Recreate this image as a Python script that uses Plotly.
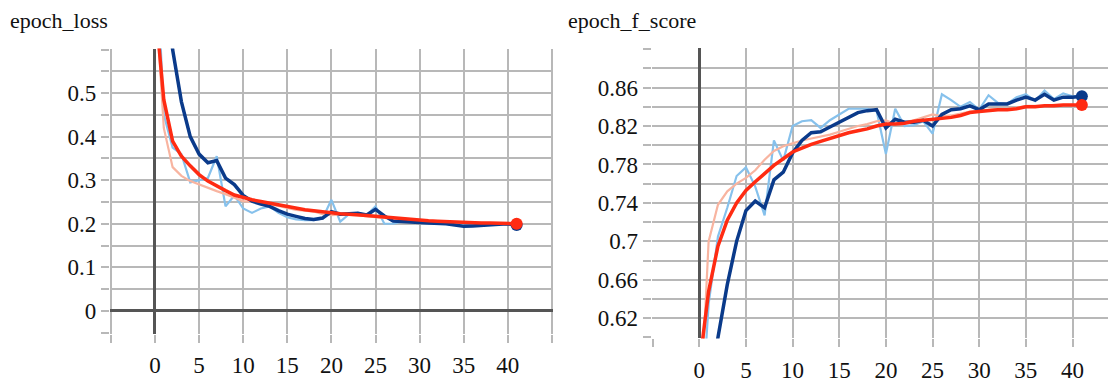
import plotly.graph_objects as go

# ---------------- data ----------------
epochs = list(range(42))

# epoch_loss
loss_train_raw = [0.90, 0.45, 0.375, 0.36, 0.295, 0.30, 0.305, 0.355, 0.24, 0.265,
                  0.235, 0.225, 0.235, 0.24, 0.225, 0.215, 0.21, 0.208, 0.208, 0.212,
                  0.255, 0.205, 0.222, 0.225, 0.22, 0.24, 0.20, 0.20, 0.205, 0.205,
                  0.205, 0.20, 0.203, 0.20, 0.197, 0.195, 0.197, 0.198, 0.20, 0.20,
                  0.198, 0.195]
loss_train_smooth = [1.30, 0.85, 0.60, 0.48, 0.40, 0.36, 0.34, 0.345, 0.305, 0.29,
                     0.265, 0.252, 0.245, 0.24, 0.23, 0.222, 0.217, 0.212, 0.21, 0.213,
                     0.228, 0.222, 0.223, 0.224, 0.22, 0.233, 0.218, 0.206, 0.205, 0.205,
                     0.203, 0.202, 0.201, 0.20, 0.197, 0.194, 0.195, 0.197, 0.199, 0.199,
                     0.20, 0.197]
loss_val_raw = [0.75, 0.42, 0.33, 0.31, 0.298, 0.29, 0.283, 0.275, 0.268, 0.26,
                0.252, 0.25, 0.248, 0.245, 0.241, 0.236, 0.232, 0.23, 0.228, 0.222,
                0.22, 0.221, 0.221, 0.22, 0.217, 0.215, 0.213, 0.211, 0.209, 0.208,
                0.207, 0.206, 0.206, 0.205, 0.204, 0.203, 0.202, 0.202, 0.201, 0.20,
                0.20, 0.199]
loss_val_smooth = [0.71, 0.485, 0.39, 0.355, 0.333, 0.313, 0.298, 0.286, 0.276, 0.266,
                   0.26, 0.255, 0.251, 0.247, 0.243, 0.239, 0.235, 0.232, 0.23, 0.227,
                   0.224, 0.223, 0.222, 0.221, 0.219, 0.217, 0.215, 0.213, 0.211, 0.209,
                   0.207, 0.207, 0.206, 0.205, 0.205, 0.204, 0.203, 0.202, 0.202, 0.201,
                   0.20, 0.20]

# epoch_f_score
f_train_raw = [0.48, 0.635, 0.705, 0.735, 0.768, 0.777, 0.757, 0.727, 0.805, 0.784,
               0.82, 0.825, 0.826, 0.818, 0.826, 0.832, 0.838, 0.838, 0.838, 0.836,
               0.791, 0.838, 0.82, 0.821, 0.825, 0.812, 0.853, 0.847, 0.84, 0.845,
               0.837, 0.852, 0.844, 0.843, 0.85, 0.853, 0.846, 0.857, 0.848, 0.854,
               0.851, 0.851]
f_train_smooth = [0.45, 0.54, 0.60, 0.655, 0.70, 0.732, 0.742, 0.735, 0.764, 0.772,
                  0.792, 0.805, 0.813, 0.814, 0.819, 0.824, 0.829, 0.834, 0.836, 0.837,
                  0.818, 0.827, 0.824, 0.824, 0.826, 0.82, 0.832, 0.837, 0.838, 0.841,
                  0.837, 0.843, 0.843, 0.843, 0.847, 0.85, 0.847, 0.853, 0.847, 0.85,
                  0.85, 0.851]
f_val_raw = [0.50, 0.70, 0.738, 0.752, 0.76, 0.766, 0.774, 0.785, 0.794, 0.799,
             0.802, 0.805, 0.807, 0.809, 0.811, 0.814, 0.817, 0.82, 0.822, 0.825,
             0.826, 0.822, 0.824, 0.826, 0.829, 0.832, 0.83, 0.831, 0.833, 0.835,
             0.836, 0.837, 0.838, 0.838, 0.839, 0.841, 0.841, 0.841, 0.842, 0.842,
             0.842, 0.842]
f_val_smooth = [0.57, 0.648, 0.695, 0.722, 0.74, 0.753, 0.762, 0.771, 0.779, 0.786,
                0.793, 0.797, 0.801, 0.804, 0.807, 0.81, 0.813, 0.815, 0.817, 0.82,
                0.822, 0.822, 0.823, 0.825, 0.826, 0.827, 0.828, 0.829, 0.831, 0.834,
                0.835, 0.836, 0.837, 0.837, 0.838, 0.84, 0.84, 0.841, 0.841, 0.842,
                0.842, 0.842]

x_grid = [-5, 0, 5, 10, 15, 20, 25, 30, 35, 40, 45]
x_labels = ["", "0", "5", "10", "15", "20", "25", "30", "35", "40", ""]

loss_grid = [-0.05, 0, 0.05, 0.1, 0.15, 0.2, 0.25, 0.3, 0.35, 0.4, 0.45, 0.5, 0.55, 0.6]
loss_labels = ["", "0", "", "0.1", "", "0.2", "", "0.3", "", "0.4", "", "0.5", "", ""]

f_grid = [0.60, 0.62, 0.64, 0.66, 0.68, 0.70, 0.72, 0.74, 0.76, 0.78, 0.80, 0.82,
          0.84, 0.86, 0.88, 0.90]
f_labels = ["", "0.62", "", "0.66", "", "0.7", "", "0.74", "", "0.78", "", "0.82",
            "", "0.86", "", ""]

titles = ["epoch_loss", "epoch_f_score"]

# ---------------- styles ----------------
C_LIGHT_BLUE = "#86c1ec"
C_DARK_BLUE = "#0a3a8a"
C_SALMON = "#f8b4a0"
C_RED = "#ff2b12"
GRID = "#b8b8b8"
ZERO = "#555555"
FONT = "Liberation Serif"

fig = go.Figure()


def add_series(xa, ya, raw_b, sm_b, raw_r, sm_r):
    fig.add_trace(go.Scatter(x=epochs, y=raw_b, mode="lines", xaxis=xa, yaxis=ya,
                             line=dict(color=C_LIGHT_BLUE, width=2.2), showlegend=False))
    fig.add_trace(go.Scatter(x=epochs, y=raw_r, mode="lines", xaxis=xa, yaxis=ya,
                             line=dict(color=C_SALMON, width=2.2), showlegend=False))
    fig.add_trace(go.Scatter(x=epochs, y=sm_b, mode="lines", xaxis=xa, yaxis=ya,
                             line=dict(color=C_DARK_BLUE, width=3.5), showlegend=False))
    fig.add_trace(go.Scatter(x=epochs[-1:], y=sm_b[-1:], mode="markers", xaxis=xa, yaxis=ya,
                             marker=dict(color=C_DARK_BLUE, size=12), showlegend=False))
    fig.add_trace(go.Scatter(x=epochs, y=sm_r, mode="lines", xaxis=xa, yaxis=ya,
                             line=dict(color=C_RED, width=3.5), showlegend=False))
    fig.add_trace(go.Scatter(x=epochs[-1:], y=sm_r[-1:], mode="markers", xaxis=xa, yaxis=ya,
                             marker=dict(color=C_RED, size=12), showlegend=False))


add_series("x", "y", loss_train_raw, loss_train_smooth, loss_val_raw, loss_val_smooth)
add_series("x2", "y2", f_train_raw, f_train_smooth, f_val_raw, f_val_smooth)

# the page adds an 8px body margin, so the figure starts at (8, 8) of the window
W, H = 1108, 375


def xaxis_cfg(domain, rng):
    return dict(domain=domain, range=rng, tickmode="array", tickvals=x_grid,
                ticktext=x_labels, showgrid=True, gridcolor=GRID, gridwidth=2,
                zeroline=True, zerolinecolor=ZERO, zerolinewidth=2.6,
                ticks="outside", ticklen=8, tickwidth=2, tickcolor=GRID,
                ticklabelstandoff=3,
                showline=False, fixedrange=True,
                tickfont=dict(family=FONT, size=23, color="#111"))


def yaxis_cfg(domain, rng, vals, labels, anchor):
    return dict(domain=domain, range=rng, tickmode="array", tickvals=vals,
                ticktext=labels, showgrid=True, gridcolor=GRID, gridwidth=2,
                zeroline=True, zerolinecolor=ZERO, zerolinewidth=2.6,
                ticks="outside", ticklen=8, tickwidth=2, tickcolor=GRID,
                showline=False, anchor=anchor, fixedrange=True,
                tickfont=dict(family=FONT, size=23, color="#111"))


fig.update_layout(
    width=W, height=H,
    margin=dict(l=0, r=0, t=0, b=0),
    paper_bgcolor="white", plot_bgcolor="white",
    xaxis=dict(**xaxis_cfg([101.8 / W, 545 / W], [-5.12, 45.12]), anchor="y"),
    yaxis=yaxis_cfg([1 - 335.4 / H, 1 - 41.85 / H], [-0.0522, 0.6022], loss_grid, loss_labels, "x"),
    xaxis2=dict(**xaxis_cfg([643.7 / W, 1.0], [-5.1, 44.66]), anchor="y2"),
    yaxis2=yaxis_cfg([1 - 340.4 / H, 1 - 41.4 / H], [0.599, 0.901], f_grid, f_labels, "x2"),
    annotations=[
        dict(text=titles[0], xref="paper", yref="paper", x=0, y=1 - 13 / H,
             xanchor="left", yanchor="middle", showarrow=False,
             font=dict(family=FONT, size=22, color="#111")),
        dict(text=titles[1], xref="paper", yref="paper", x=558 / W, y=1 - 13 / H,
             xanchor="left", yanchor="middle", showarrow=False,
             font=dict(family=FONT, size=22, color="#111")),
    ],
)

fig.write_html("out.html")
